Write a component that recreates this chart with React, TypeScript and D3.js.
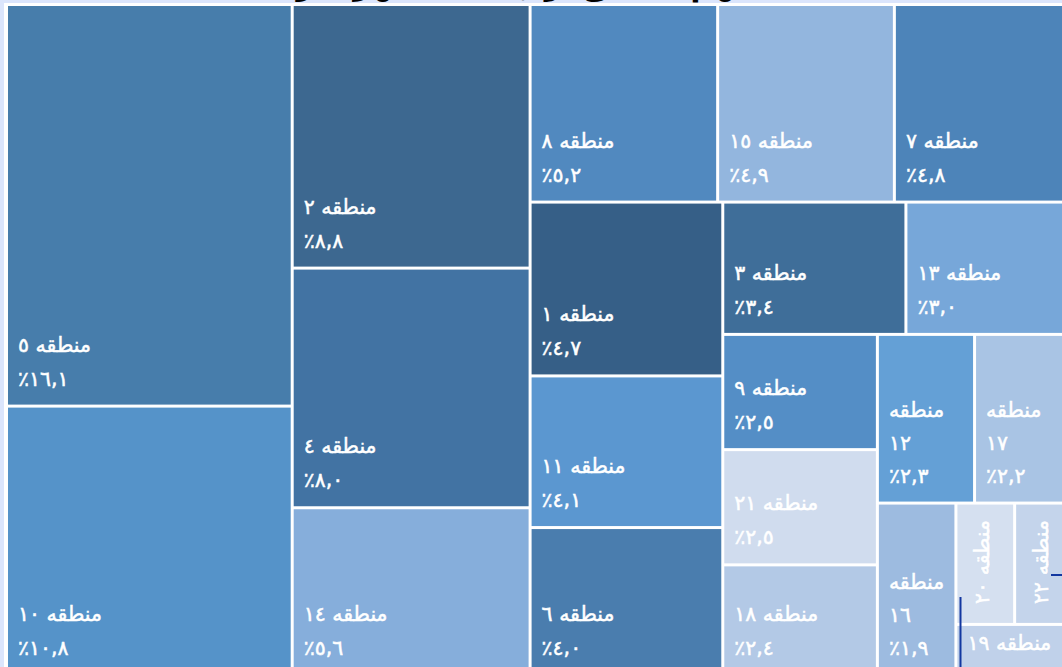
import React, { useMemo } from "react";
import * as d3 from "d3";

// region numbers, share of total (%) and tile colour, in the order of the source table
const regionNumbers = [5, 10, 2, 4, 14, 8, 15, 7, 1, 11, 6, 3, 13, 9, 21, 18, 12, 17, 16, 20, 22, 19];
const shares = [16.1, 10.8, 8.8, 8.0, 5.6, 5.2, 4.9, 4.8, 4.7, 4.1, 4.0, 3.4, 3.0, 2.5, 2.5, 2.4, 2.3, 2.2, 1.9, 1.0, 0.9, 0.8];
const tileColors = [
  "#477dab", "#5593c9", "#3d6890", "#4273a3", "#86aedb", "#5189bf", "#93b6de", "#4d84b9",
  "#365f87", "#5b97d0", "#4a7dae", "#3f6e99", "#77a7d9", "#548ec6", "#d0dcee", "#b3c9e6",
  "#64a0d6", "#a9c4e4", "#9dbbe0", "#d5e0f0", "#c4d4eb", "#c0d1ea",
];
// how many tiles the spreadsheet put in each squarified strip
const stripSizes = [2, 3, 3, 3, 2, 3, 2, 1, 2, 1];
const chartTitle = "سهم مناطق از جمعیت شهر (درصد)";

const WIDTH = 1062;
const HEIGHT = 667;
const FONT = "'DejaVu Sans', sans-serif";

const arabicDigits = "٠١٢٣٤٥٦٧٨٩";
const toArabic = (s: string) => s.replace(/[0-9]/g, (d) => arabicDigits[+d]);

interface Leaf {
  num: number;
  share: number;
  color: string;
}

// squarified strips, but with the strip lengths fixed like the original chart
function stripTile(parent: any, x0: number, y0: number, x1: number, y1: number) {
  const nodes = parent.children;
  let value = parent.value;
  let i = 0;
  for (const len of stripSizes) {
    if (i >= nodes.length) break;
    const row = nodes.slice(i, i + len);
    i += len;
    const sum = d3.sum(row, (d: any) => d.value);
    const strip: any = { value: sum, children: row };
    const dx = x1 - x0;
    const dy = y1 - y0;
    if (dx < dy) {
      const h = value ? (dy * sum) / value : 0;
      d3.treemapDice(strip, x0, y0, x1, y0 + h);
      y0 += h;
    } else {
      const w = value ? (dx * sum) / value : 0;
      d3.treemapSlice(strip, x0, y0, x0 + w, y1);
      x0 += w;
    }
    value -= sum;
  }
}

function TileLabel({ node }: { node: d3.HierarchyRectangularNode<any> }) {
  const d = node.data as Leaf;
  const w = node.x1 - node.x0;
  const h = node.y1 - node.y0;
  const name = "منطقه";
  const num = toArabic(String(d.num));
  const pct = toArabic(d.share.toFixed(1).replace(".", ",")) + "٪";
  const common = {
    fill: "white",
    stroke: "white",
    strokeWidth: 0.5,
    fontFamily: FONT,
    fontSize: 20.5,
    direction: "rtl" as const,
    textAnchor: "end" as const,
  };
  const lx = node.x0 + 10;

  if (w < 70) {
    // narrow tile: rotated name
    return (
      <text {...common} transform={`translate(${node.x0 + 32},${node.y1 - 19}) rotate(-90)`}>
        {`${name} ${num}`}
      </text>
    );
  }
  if (h < 60) {
    return (
      <text {...common} x={lx} y={node.y0 + 24}>
        {`${name} ${num}`}
      </text>
    );
  }
  if (w < 115) {
    const lines = [name, num, pct];
    return (
      <g>
        {lines.map((t, i) => (
          <text key={i} {...common} x={lx} y={node.y1 - 19 - (lines.length - 1 - i) * 33}>
            {t}
          </text>
        ))}
      </g>
    );
  }
  return (
    <g>
      <text {...common} x={lx} y={node.y1 - 19 - 34}>{`${name} ${num}`}</text>
      <text {...common} x={lx} y={node.y1 - 19}>{pct}</text>
    </g>
  );
}

export default function App() {
  const leaves = useMemo(() => {
    const data = {
      children: regionNumbers.map((num, i) => ({ num, share: shares[i], color: tileColors[i] })),
    };
    const root = d3
      .hierarchy<any>(data)
      .sum((d) => d.share || 0)
      .sort((a, b) => (b.value || 0) - (a.value || 0));
    d3.treemap<any>()
      .tile(stripTile)
      .size([1058, 668])
      .paddingInner(3)(root);
    return root.leaves() as d3.HierarchyRectangularNode<any>[];
  }, []);

  return (
    <svg
      width={WIDTH}
      height={HEIGHT}
      style={{ position: "absolute", left: 0, top: 0, display: "block" }}
    >
      <rect width={WIDTH} height={HEIGHT} fill="#dbe5fc" />
      <rect x={4} y={3} width={WIDTH} height={HEIGHT} fill="white" />
      <g transform="translate(8,6)">
        {leaves.map((n, i) => (
          <rect
            key={i}
            x={n.x0}
            y={n.y0}
            width={n.x1 - n.x0}
            height={n.y1 - n.y0}
            fill={(n.data as Leaf).color}
          />
        ))}
        {leaves.map((n, i) => (
          <TileLabel key={i} node={n} />
        ))}
      </g>
      {/* title sits above the visible crop; only its lowest strokes show */}
      <text
        x={500}
        y={-5}
        textAnchor="middle"
        fontFamily={FONT}
        fontSize={30}
        fontWeight="bold"
        fill="black"
      >
        {chartTitle}
      </text>
      {/* stray selection marks visible in the screenshot */}
      <line x1={960.5} y1={597} x2={960.5} y2={HEIGHT} stroke="#1237a0" strokeWidth={2} />
      <line x1={1051} y1={575} x2={WIDTH} y2={575} stroke="#1237a0" strokeWidth={2} />
    </svg>
  );
}
